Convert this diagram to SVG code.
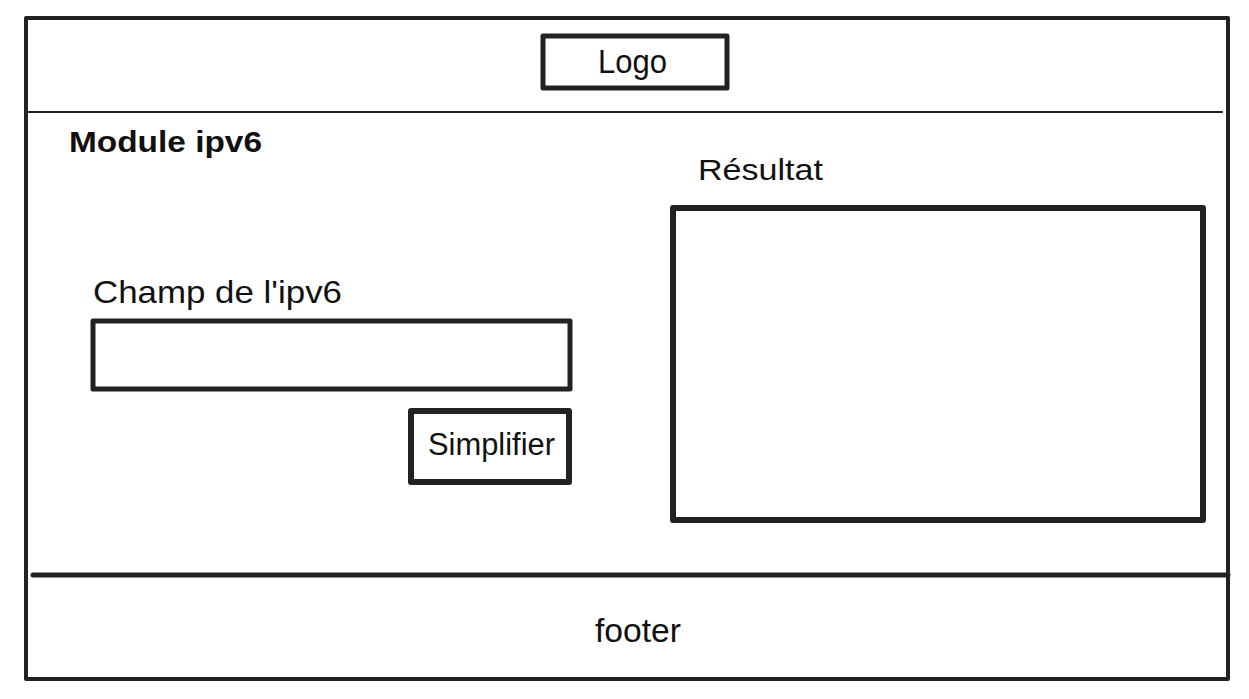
<svg xmlns="http://www.w3.org/2000/svg" width="1249" height="699" viewBox="0 0 1249 699">
<style>
.box{fill:none;stroke:#222;stroke-linejoin:round;stroke-linecap:round}
.t{font-family:"Liberation Sans","DejaVu Sans",sans-serif;fill:#111}
</style>
<rect width="1249" height="699" fill="#fff"/>
<g id="frame">
<rect class="box" x="26" y="18" width="1202" height="661" stroke-width="4"/>
</g>
<g id="connectors">
<line class="box" x1="26" y1="112" x2="1222" y2="112" stroke-width="2"/>
<line class="box" x1="33" y1="575" x2="1228" y2="575" stroke-width="5"/>
</g>
<g id="logo">
<rect class="box" x="543" y="36" width="184" height="52" stroke-width="5"/>
<text class="t" x="598" y="73" font-size="34" textLength="69" lengthAdjust="spacingAndGlyphs">Logo</text>
</g>
<g id="title">
<text class="t" x="69" y="152" font-size="30" font-weight="bold" textLength="193" lengthAdjust="spacingAndGlyphs">Module ipv6</text>
</g>
<g id="champ">
<text class="t" x="93" y="303" font-size="32" textLength="249" lengthAdjust="spacingAndGlyphs">Champ de l'ipv6</text>
<rect class="box" x="93" y="321" width="477" height="68" stroke-width="5"/>
</g>
<g id="simplifier">
<rect class="box" x="411" y="411" width="158" height="71" stroke-width="6"/>
<text class="t" x="428" y="455" font-size="31" textLength="127" lengthAdjust="spacingAndGlyphs">Simplifier</text>
</g>
<g id="resultat">
<text class="t" x="698" y="180" font-size="29" textLength="125" lengthAdjust="spacingAndGlyphs">Résultat</text>
<rect class="box" x="673" y="208" width="530" height="312" stroke-width="6"/>
</g>
<g id="footer">
<text class="t" x="595" y="642" font-size="33" textLength="86" lengthAdjust="spacingAndGlyphs">footer</text>
</g>
</svg>
